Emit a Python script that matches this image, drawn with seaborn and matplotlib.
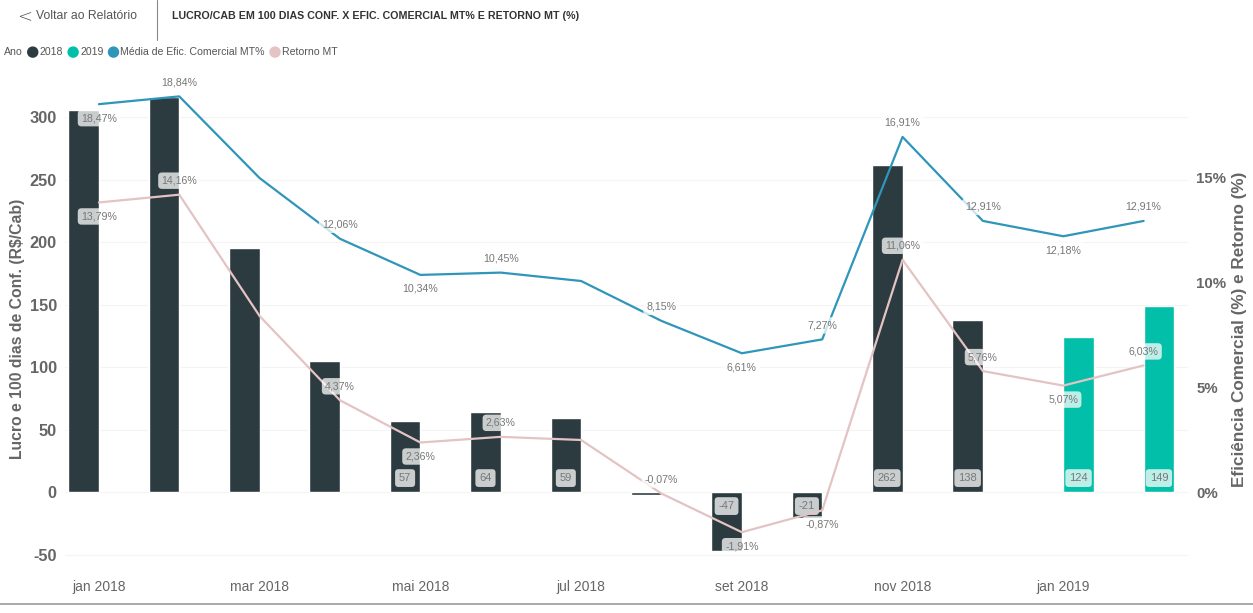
import numpy as np
import pandas as pd
import matplotlib
matplotlib.use("Agg")
import matplotlib.pyplot as plt
import seaborn as sns

# dados
meses = ["jan 2018", "fev 2018", "mar 2018", "abr 2018", "mai 2018", "jun 2018", "jul 2018",
         "ago 2018", "set 2018", "out 2018", "nov 2018", "dez 2018", "jan 2019", "fev 2019"]
anos = ["2018"] * 12 + ["2019"] * 2
lucro = [306, 316, 195, 105, 57, 64, 59, -2, -47, -21, 262, 138, 124, 149]
lucro_rotulo = [False, False, False, False, True, True, True, False, True, True, True, True, True, True]
eficiencia = [18.47, 18.84, 14.95, 12.06, 10.34, 10.45, 10.05, 8.15, 6.61, 7.27, 16.91, 12.91, 12.18, 12.91]
efic_rotulo = [-1, 1, 0, 1, -1, 1, 0, 1, -1, 1, 1, 1, -1, 1]   # 1 acima, -1 abaixo, 0 sem
retorno = [13.79, 14.16, 8.38, 4.37, 2.36, 2.63, 2.48, -0.07, -1.91, -0.87, 11.06, 5.76, 5.07, 6.03]
ret_rotulo = [-1, 1, 0, 1, -1, 1, 0, 1, -1, -1, 1, 1, -1, 1]
ticks_x = ["jan 2018", "mar 2018", "mai 2018", "jul 2018", "set 2018", "nov 2018", "jan 2019"]

cor_2018 = "#2C3B3F"
cor_2019 = "#01BFA8"
cor_efic = "#2F96BA"
cor_ret = "#E3C3C3"
cinza = "#666666"

df = pd.DataFrame({"Mes": meses, "Ano": anos, "Lucro": lucro})
df["pos"] = np.arange(len(meses))

sns.set_style("white")
plt.rcParams["font.family"] = ["Liberation Sans", "DejaVu Sans"]

fig = plt.figure(figsize=(12.53, 6.13), dpi=100)
ax = fig.add_axes([0.052, 0.070, 0.896, 0.786])

sns.barplot(data=df, x="Mes", y="Lucro", hue="Ano", hue_order=["2018", "2019"],
            palette={"2018": cor_2018, "2019": cor_2019}, dodge=True, width=0.76,
            saturation=1, order=meses, ax=ax, legend=False)

escala = 16.8  # R$/Cab por ponto percentual (eixos com zero alinhado)
ax.set_ylim(-62.4, 323)
ax.set_xlim(-0.42, 13.55)

ax2 = ax.twinx()
ax2.set_ylim(-62.4 / escala, 323 / escala)
ax2.set_position(ax.get_position())
sns.lineplot(x=df["pos"], y=eficiencia, color=cor_efic, lw=1.6, ax=ax2)
sns.lineplot(x=df["pos"], y=retorno, color=cor_ret, lw=1.6, ax=ax2)
ax2.set_xlim(ax.get_xlim())

caixa = dict(boxstyle="round,pad=0.3,rounding_size=0.35", fc="white", ec="none", alpha=0.75)
fonte_rot = ["Liberation Sans Narrow", "Liberation Sans", "DejaVu Sans"]

for serie, lados in ((eficiencia, efic_rotulo), (retorno, ret_rotulo)):
    for i, (v, lado) in enumerate(zip(serie, lados)):
        if lado == 0:
            continue
        ax2.annotate(f"{v:.2f}%".replace(".", ","), (i, v), xytext=(0, 14 * lado),
                     textcoords="offset pixels", ha="center", va="center", fontsize=7.7,
                     color="#777777", family=fonte_rot, bbox=caixa, zorder=5)

# rótulos das barras junto à base
for i, (v, ano, mostra) in enumerate(zip(lucro, anos, lucro_rotulo)):
    if not mostra:
        continue
    desloc = -0.19 if ano == "2018" else 0.19
    ax.annotate(f"{v}", (i + desloc, 0), xytext=(0, 14 if v > 0 else -14),
                textcoords="offset pixels", ha="center", va="center", fontsize=8,
                color="#777777", family=fonte_rot,
                bbox=dict(boxstyle="round,pad=0.35,rounding_size=0.3", fc="white", ec="none", alpha=0.75),
                zorder=6)

ax.set_zorder(ax2.get_zorder() - 1)
ax2.patch.set_visible(False)

# eixos
yt = [-50, 0, 50, 100, 150, 200, 250, 300]
ax.set_yticks(yt)
ax.set_yticklabels([str(v) for v in yt])
ax.tick_params(axis="y", labelsize=11.8, labelcolor=cinza, length=0, pad=6)
for t in ax.get_yticklabels():
    t.set_fontweight("bold")
ax.set_xticks([meses.index(m) for m in ticks_x])
ax.set_xticklabels(ticks_x)
ax.tick_params(axis="x", labelsize=10, labelcolor=cinza, length=0, pad=7)
ax.set_xlabel("")
ax.set_ylabel("Lucro e 100 dias de Conf. (R$/Cab)", fontsize=11.3, fontweight="bold", color=cinza, labelpad=3)
ax.grid(axis="y", color="#F4F4F4", lw=0.8)
ax.set_axisbelow(True)

ax2.set_yticks([0, 5, 10, 15])
ax2.set_yticklabels(["0%", "5%", "10%", "15%"])
ax2.tick_params(axis="y", labelsize=10.8, labelcolor=cinza, length=0, pad=6)
for t in ax2.get_yticklabels():
    t.set_fontweight("bold")
ax2.set_ylabel("Eficiência Comercial (%) e Retorno (%)", fontsize=12.3, fontweight="bold", color=cinza, labelpad=4)
ax2.set_xlabel("")

for a in (ax, ax2):
    for s in a.spines.values():
        s.set_visible(False)

# cabeçalho
fig.text(17 / 1253, 0.974, "<", fontsize=13, color="#555555", va="center", ha="left",
         family=["DejaVu Sans"], fontweight="light")
fig.text(36 / 1253, 0.974, "Voltar ao Relatório", fontsize=8.8, color="#555555", va="center", ha="left")
fig.add_artist(plt.Line2D([157 / 1253, 157 / 1253], [0.935, 1.0], color="#888888", lw=0.8))
fig.text(172 / 1253, 0.974, "LUCRO/CAB EM 100 DIAS CONF. X EFIC. COMERCIAL MT% E RETORNO MT (%)",
         fontsize=7.7, fontweight="bold", color="#333333", va="center", ha="left")

# legenda
leg_y = 0.915
itens = [("Ano", None), ("2018", cor_2018), ("2019", cor_2019),
         ("Média de Efic. Comercial MT%", cor_efic), ("Retorno MT", cor_ret)]
x = 4
rend = fig.canvas.get_renderer()
for texto, cor in itens:
    if cor is not None:
        fig.add_artist(matplotlib.patches.Circle((x + 5, leg_y * 613), 5, color=cor,
                                                 transform=None))
        x += 12
    t = fig.text(x / 1253, leg_y, texto, fontsize=7.6, color="#555555", va="center", ha="left")
    w = t.get_window_extent(rend).width
    x += w + 5

fig.add_artist(plt.Line2D([0, 1], [0.015, 0.015], color="#999999", lw=1.2))

fig.savefig("out.png", dpi=100)
